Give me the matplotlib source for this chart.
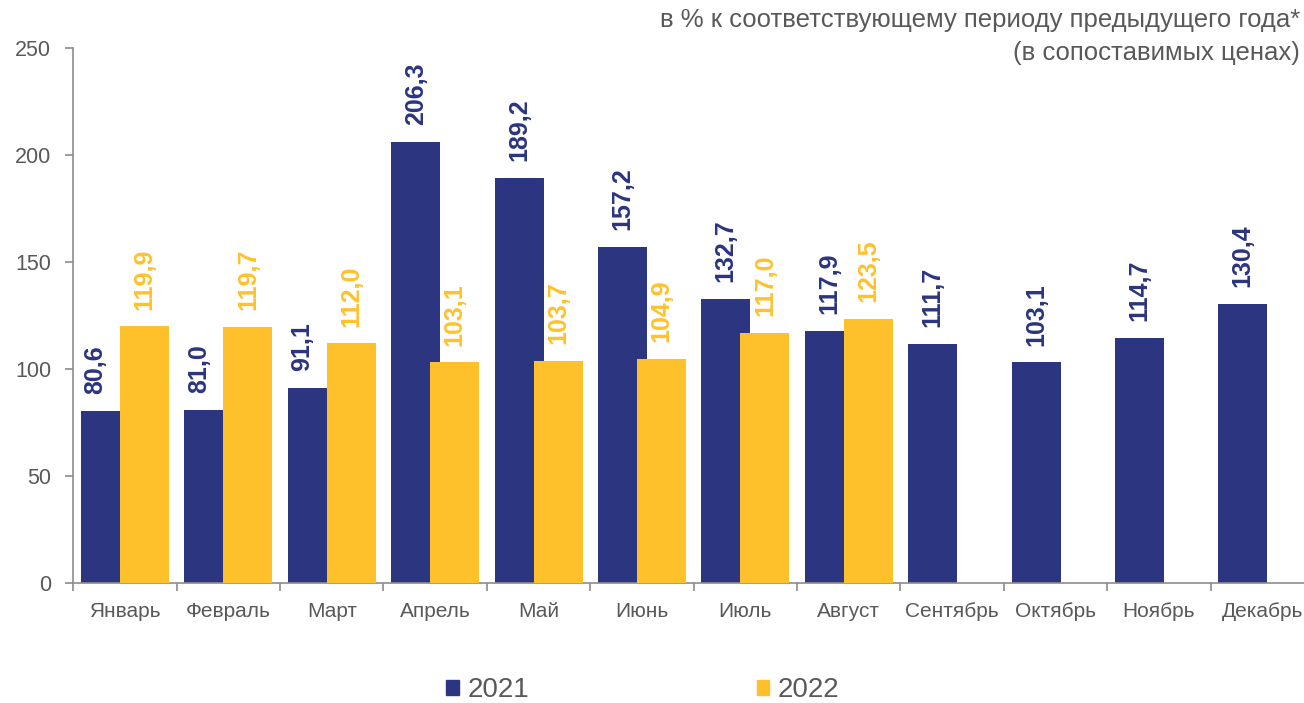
import numpy as np
import matplotlib
matplotlib.use("Agg")
import matplotlib.pyplot as plt
from matplotlib.patches import Patch

plt.rcParams['font.family'] = ['Liberation Sans', 'DejaVu Sans']

meses = ["Январь", "Февраль", "Март", "Апрель", "Май", "Июнь",
         "Июль", "Август", "Сентябрь", "Октябрь", "Ноябрь", "Декабрь"]
valores_2021 = [80.6, 81.0, 91.1, 206.3, 189.2, 157.2, 132.7, 117.9, 111.7, 103.1, 114.7, 130.4]
valores_2022 = [119.9, 119.7, 112.0, 103.1, 103.7, 104.9, 117.0, 123.5]

azul = "#2B3580"
amarelo = "#FFC12B"
cinza = "#595959"

fig = plt.figure(figsize=(13.04, 7.03), dpi=100)
ax = fig.add_axes([0.0562, 0.1707, 0.9515, 0.761])

x = np.arange(len(meses))
x22 = np.arange(len(valores_2022))
largura = 0.474
desl = 0.189

ax.bar(x - desl, valores_2021, largura, color=azul, zorder=2)
ax.bar(x22 + desl, valores_2022, largura, color=amarelo, zorder=3)

def rotulo(v):
    return f"{v:.1f}".replace(".", ",")

for i, v in enumerate(valores_2021):
    # rótulo azul um pouco à esquerda quando a barra amarela é bem mais alta
    dx = -7 if i < len(valores_2022) and valores_2022[i] - v > 15 else 0
    ax.annotate(rotulo(v), (x[i] - desl, v), xytext=(dx, 12), textcoords="offset points",
                rotation=90, ha="center", va="bottom", fontsize=18, fontweight="bold",
                color=azul, zorder=5)
for xi, v in zip(x22, valores_2022):
    ax.annotate(rotulo(v), (xi + desl, v), xytext=(0, 12), textcoords="offset points",
                rotation=90, ha="center", va="bottom", fontsize=18, fontweight="bold",
                color=amarelo, zorder=5)

ax.set_xlim(-0.5, len(meses) - 0.5)
ax.set_ylim(0, 250)
ax.set_yticks([0, 50, 100, 150, 200, 250])
ax.set_xticks(x)
ax.set_xticklabels(meses, fontsize=15, color=cinza)
ax.set_xticks(np.arange(-0.5, len(meses)), minor=True)
ax.tick_params(axis="x", which="major", length=0, pad=14)
ax.tick_params(axis="x", which="minor", length=6, color="#8c8c8c", width=1.2)
ax.tick_params(axis="y", length=6, color="#8c8c8c", width=1.2, labelsize=15.5, labelcolor=cinza, pad=10)

for lado in ["top", "right"]:
    ax.spines[lado].set_visible(False)
for lado in ["left", "bottom"]:
    ax.spines[lado].set_color("#8c8c8c")
    ax.spines[lado].set_linewidth(1.2)

fig.text(0.997, 0.988, "в % к соответствующему периоду предыдущего года*\n(в сопоставимых ценах)",
         ha="right", va="top", fontsize=18.5, color=cinza, linespacing=1.45)

handles = [Patch(color=azul, label="2021"), Patch(color=amarelo, label="2022")]
fig.legend(handles=handles, loc="center", bbox_to_anchor=(0.493, 0.018), ncol=2, frameon=False,
           fontsize=20, handlelength=0.45, handleheight=0.45, handletextpad=0.3,
           columnspacing=8.2, labelcolor=cinza)

fig.savefig("out.png", dpi=100)
